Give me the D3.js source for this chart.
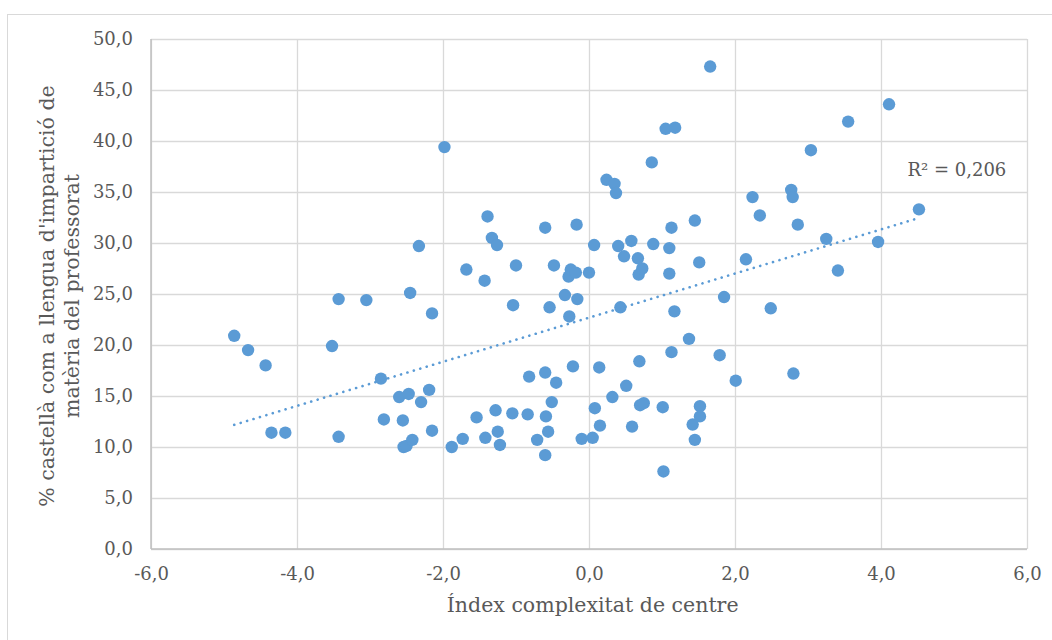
<!DOCTYPE html>
<html>
<head>
<meta charset="utf-8">
<script src="https://cdn.jsdelivr.net/npm/d3@7"></script>
<style>
    body { margin: 0; background: #fff; }
    svg text { font-family: 'DejaVu Serif', serif; fill: #595959; }
</style>
</head>
<body>
<div class="scatter__container"></div>
<script>
// data
const xValues = [
    -4.86, -4.67, -4.43, -4.35, -4.16, -3.52, -3.43, -3.43, -3.05, -2.85,
    -2.81, -2.60, -2.55, -2.54, -2.50, -2.47, -2.45, -2.42, -2.33, -2.30,
    -2.19, -2.15, -2.15, -1.98, -1.88, -1.73, -1.68, -1.54, -1.43, -1.42,
    -1.39, -1.33, -1.28, -1.26, -1.25, -1.22, -1.05, -1.04, -1.00, -0.84,
    -0.82, -0.71, -0.60, -0.60, -0.59, -0.60, -0.56, -0.54, -0.51, -0.48,
    -0.45, -0.33, -0.28, -0.27, -0.25, -0.22, -0.18, -0.17, -0.16, -0.10,
    0.00, 0.05, 0.07, 0.08, 0.14, 0.15, 0.24, 0.32, 0.35, 0.37,
    0.40, 0.43, 0.48, 0.51, 0.58, 0.59, 0.67, 0.68, 0.69, 0.70,
    0.73, 0.75, 0.86, 0.88, 1.01, 1.02, 1.05, 1.10, 1.10, 1.13,
    1.13, 1.17, 1.18, 1.37, 1.42, 1.45, 1.45, 1.51, 1.52, 1.52,
    1.66, 1.79, 1.85, 2.01, 2.15, 2.24, 2.34, 2.49, 2.77, 2.79,
    2.80, 2.86, 3.04, 3.25, 3.41, 3.55, 3.96, 4.11, 4.52
];
const yValues = [
    20.9, 19.5, 18.0, 11.4, 11.4, 19.9, 24.5, 11.0, 24.4, 16.7,
    12.7, 14.9, 12.6, 10.0, 10.1, 15.2, 25.1, 10.7, 29.7, 14.4,
    15.6, 23.1, 11.6, 39.4, 10.0, 10.8, 27.4, 12.9, 26.3, 10.9,
    32.6, 30.5, 13.6, 29.8, 11.5, 10.2, 13.3, 23.9, 27.8, 13.2,
    16.9, 10.7, 31.5, 17.3, 13.0, 9.2, 11.5, 23.7, 14.4, 27.8,
    16.3, 24.9, 26.7, 22.8, 27.4, 17.9, 27.1, 31.8, 24.5, 10.8,
    27.1, 10.9, 29.8, 13.8, 17.8, 12.1, 36.2, 14.9, 35.8, 34.9,
    29.7, 23.7, 28.7, 16.0, 30.2, 12.0, 28.5, 26.9, 18.4, 14.1,
    27.5, 14.3, 37.9, 29.9, 13.9, 7.6, 41.2, 29.5, 27.0, 31.5,
    19.3, 23.3, 41.3, 20.6, 12.2, 32.2, 10.7, 28.1, 14.0, 13.0,
    47.3, 19.0, 24.7, 16.5, 28.4, 34.5, 32.7, 23.6, 35.2, 34.5,
    17.2, 31.8, 39.1, 30.4, 27.3, 41.9, 30.1, 43.6, 33.3
];
const xTicks = [-6, -4, -2, 0, 2, 4, 6];
const yTicks = [0, 5, 10, 15, 20, 25, 30, 35, 40, 45, 50];
const xTitle = 'Índex complexitat de centre';
const yTitle = ["% castellà com a llengua d'impartició de", 'matèria del professorat'];
const r2Label = 'R² = 0,206';

const points = xValues.map((x, i) => ({ x: x, y: yValues[i] }));

// least squares trend line
const linearFit = (data) => {
    const mx = d3.mean(data, d => d.x);
    const my = d3.mean(data, d => d.y);
    const sxy = d3.sum(data, d => (d.x - mx) * (d.y - my));
    const sxx = d3.sum(data, d => (d.x - mx) * (d.x - mx));
    const slope = sxy / sxx;
    return { slope: slope, intercept: my - slope * mx };
}

// excel style: comma decimal, plain hyphen for minus
const fmt = v => d3.format('.1f')(v).replace('.', ',').replace('\u2212', '-');

const defineChart = () => {
    const width = 1052;
    const height = 640;
    const margin = { top: 39, right: 25, bottom: 91, left: 151 };
    const widthChart = width - margin.left - margin.right;
    const heightChart = height - margin.top - margin.bottom;

    const xScale = d3.scaleLinear().domain([-6, 6]).range([0, widthChart]);
    const yScale = d3.scaleLinear().domain([0, 50]).range([heightChart, 0]);

    const root = d3.select('.scatter__container')
        .append('svg')
        .attr('width', width)
        .attr('height', height);

    // chart frame
    root.append('rect')
        .attr('x', 7.5)
        .attr('y', 14.5)
        .attr('width', 1060)
        .attr('height', 640)
        .style('fill', 'none')
        .style('stroke', '#d9d9d9');

    const svg = root.append('g')
        .attr('transform', `translate(${margin.left}, ${margin.top})`);

    // grid
    const xAxis = d3.axisBottom(xScale)
        .tickValues(xTicks)
        .tickSize(-heightChart)
        .tickPadding(18)
        .tickFormat(fmt);
    const yAxis = d3.axisLeft(yScale)
        .tickValues(yTicks)
        .tickSize(-widthChart)
        .tickPadding(18)
        .tickFormat(fmt);

    const xAxisDraw = svg.append('g')
        .attr('class', 'x-axis')
        .attr('transform', `translate(0,${heightChart})`)
        .call(xAxis);
    const yAxisDraw = svg.append('g')
        .attr('class', 'y-axis')
        .call(yAxis);

    [xAxisDraw, yAxisDraw].forEach(axis => {
        axis.select('.domain').remove();
        axis.selectAll('.tick line').style('stroke', '#d9d9d9').style('stroke-width', 1.3);
        axis.selectAll('.tick text').style('font-size', '18px').style('fill', '#595959');
    });

    // axis lines
    svg.append('line')
        .attr('x1', 0).attr('x2', widthChart)
        .attr('y1', heightChart).attr('y2', heightChart)
        .style('stroke', '#bfbfbf').style('stroke-width', 1.5);
    svg.append('line')
        .attr('x1', 0).attr('x2', 0)
        .attr('y1', 0).attr('y2', heightChart)
        .style('stroke', '#bfbfbf').style('stroke-width', 1.5);

    // points
    svg.append('g')
        .attr('class', 'scatter-points')
        .selectAll('circle')
        .data(points)
        .enter()
        .append('circle')
        .attr('cx', d => xScale(d.x))
        .attr('cy', d => yScale(d.y))
        .attr('r', 6.2)
        .style('fill', '#5b9bd5');

    // trend line
    const fit = linearFit(points);
    const xExtent = d3.extent(points, d => d.x);
    const trend = xExtent.map(x => ({ x: x, y: fit.intercept + fit.slope * x }));
    svg.append('path')
        .attr('d', d3.line().x(d => xScale(d.x)).y(d => yScale(d.y))(trend))
        .style('fill', 'none')
        .style('stroke', '#5b9bd5')
        .style('stroke-width', 2.6)
        .style('stroke-linecap', 'round')
        .style('stroke-dasharray', '0.1 6.6');

    svg.append('text')
        .attr('x', xScale(5.04))
        .attr('y', yScale(36.6))
        .style('font-size', '18px')
        .style('text-anchor', 'middle')
        .text(r2Label);

    // titles
    svg.append('text')
        .attr('x', xScale(0.05))
        .attr('y', heightChart + 63)
        .style('font-size', '20.5px')
        .style('text-anchor', 'middle')
        .text(xTitle);

    const yTitleText = svg.append('text')
        .attr('transform', `translate(${-margin.left + 54}, ${heightChart / 2 + 2}) rotate(-90)`)
        .style('font-size', '20.5px')
        .style('text-anchor', 'middle');
    yTitle.forEach((line, i) => {
        yTitleText.append('tspan')
            .attr('x', 0)
            .attr('y', i * 25)
            .text(line);
    });
}

defineChart();
</script>
</body>
</html>
